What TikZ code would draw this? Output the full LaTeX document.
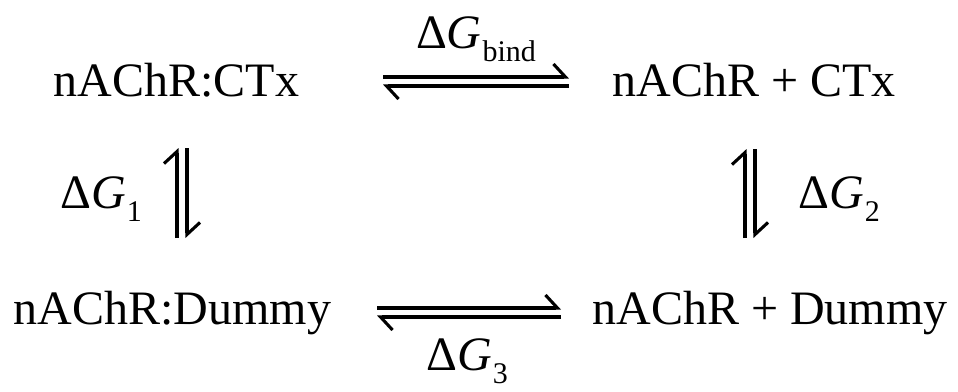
\documentclass[tikz,border=0pt]{standalone}
\usepackage{fontspec}
\setmainfont{Liberation Serif}
\usetikzlibrary{arrows.meta}
\newcommand{\dsub}[1]{\hspace{1pt}\raisebox{-13pt}{\fontsize{30}{34}\selectfont #1}}
\begin{document}
\begin{tikzpicture}[x=1pt,y=-1pt,
  txt/.style={font=\fontsize{48}{58}\selectfont, inner sep=0pt, anchor=base},
  lbl/.style={font=\fontsize{48}{58}\selectfont, inner sep=0pt, anchor=base},
  harp/.style={line width=3.1pt, -{Straight Barb[harpoon,length=12pt,width=26pt,line width=3.1pt]}}]
\useasboundingbox (0,0) rectangle (958,391);
\node[txt] (a) at (176.5,96) {nAChR:CTx};
\node[txt] (b) at (754,96) {nAChR + CTx};
\node[txt] (c) at (172.5,324) {nAChR:Dummy};
\node[txt] (d) at (770,324) {nAChR + Dummy};
\node[lbl] (lbind) at (476,48) {Δ\textit{G}\dsub{bind}};
\node[lbl] (l1) at (101,208) {Δ\textit{G}\dsub{1}};
\node[lbl] (l2) at (839,208) {Δ\textit{G}\dsub{2}};
\node[lbl] (l3) at (467,370) {Δ\textit{G}\dsub{3}};
% top equilibrium
\coordinate (t1) at (383,77); \coordinate (t2) at (569,77);
\coordinate (t3) at (569,86); \coordinate (t4) at (383,86);
\draw[harp] (t1) -- (t2);
\draw[harp] (t3) -- (t4);
% bottom equilibrium
\coordinate (b1) at (377,308); \coordinate (b2) at (561,308);
\coordinate (b3) at (561,317); \coordinate (b4) at (377,317);
\draw[harp] (b1) -- (b2);
\draw[harp] (b3) -- (b4);
% left vertical
\coordinate (v1) at (177,238); \coordinate (v2) at (177,148);
\coordinate (v3) at (187,148); \coordinate (v4) at (187,238);
\draw[harp] (v1) -- (v2);
\draw[harp] (v3) -- (v4);
% right vertical
\coordinate (w1) at (745,238); \coordinate (w2) at (745,149);
\coordinate (w3) at (755,149); \coordinate (w4) at (755,238);
\draw[harp] (w1) -- (w2);
\draw[harp] (w3) -- (w4);
\end{tikzpicture}
\end{document}
